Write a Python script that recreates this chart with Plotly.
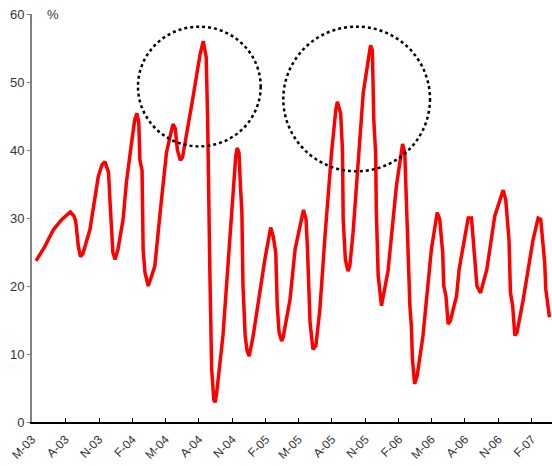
import plotly.graph_objects as go

dates = [
    "2003-05-12", "2003-06-05", "2003-06-29", "2003-07-22", "2003-08-14", "2003-08-24",
    "2003-08-29", "2003-09-02", "2003-09-05", "2003-09-11", "2003-09-18", "2003-10-07",
    "2003-10-30", "2003-11-09", "2003-11-17", "2003-11-24", "2003-11-27", "2003-12-02",
    "2003-12-05", "2003-12-09", "2003-12-15", "2003-12-23", "2004-01-06", "2004-01-15",
    "2004-01-29", "2004-02-07", "2004-02-13", "2004-02-18", "2004-02-21", "2004-02-27",
    "2004-03-01", "2004-03-06", "2004-03-15", "2004-04-02", "2004-04-17", "2004-05-04",
    "2004-05-14", "2004-05-22", "2004-05-28", "2004-06-03", "2004-06-11", "2004-06-17",
    "2004-07-15", "2004-08-04", "2004-08-13", "2004-08-21", "2004-08-25", "2004-08-27",
    "2004-08-31", "2004-09-05", "2004-09-11", "2004-09-15", "2004-09-19", "2004-10-06",
    "2004-10-29", "2004-11-10", "2004-11-14", "2004-11-19", "2004-11-23", "2004-11-27",
    "2004-11-30", "2004-12-06", "2004-12-11", "2004-12-17", "2004-12-28", "2005-01-29",
    "2005-02-14", "2005-02-21", "2005-02-28", "2005-03-04", "2005-03-09", "2005-03-16",
    "2005-03-20", "2005-04-08", "2005-04-22", "2005-05-15", "2005-05-22", "2005-05-26",
    "2005-06-02", "2005-06-10", "2005-06-18", "2005-06-29", "2005-07-13", "2005-07-31",
    "2005-08-12", "2005-08-16", "2005-08-25", "2005-08-30", "2005-09-01", "2005-09-07",
    "2005-09-14", "2005-09-19", "2005-09-28", "2005-10-26", "2005-11-15", "2005-11-20",
    "2005-11-24", "2005-11-29", "2005-12-01", "2005-12-06", "2005-12-15", "2006-01-02",
    "2006-01-25", "2006-02-11", "2006-02-17", "2006-02-22", "2006-02-26", "2006-03-03",
    "2006-03-07", "2006-03-10", "2006-03-16", "2006-03-23", "2006-04-08", "2006-05-01",
    "2006-05-17", "2006-05-24", "2006-06-01", "2006-06-04", "2006-06-10", "2006-06-16",
    "2006-06-22", "2006-07-09", "2006-07-16", "2006-08-10", "2006-08-19", "2006-08-28",
    "2006-09-03", "2006-09-13", "2006-09-30", "2006-10-22", "2006-11-14", "2006-11-21",
    "2006-11-26", "2006-11-30", "2006-12-04", "2006-12-10", "2006-12-16", "2006-12-22",
    "2007-01-08", "2007-02-04", "2007-02-18", "2007-02-25", "2007-03-08", "2007-03-11",
    "2007-03-21",
]

values = [
    23.7, 25.8, 28.3, 29.8, 30.9, 30.3,
    29.5, 27.3, 25.9, 24.3, 24.8, 28.3,
    36.1, 37.8, 38.3, 37.2, 36.7, 31.5,
    27.8, 24.9, 23.9, 25.4, 29.8, 35.2,
    41.0, 44.5, 45.4, 44.0, 38.6, 37.0,
    25.4, 22.0, 20.0, 22.9, 31.0, 39.6,
    42.0, 43.8, 43.2, 40.0, 38.5, 38.9,
    47.5, 54.0, 56.0, 53.7, 44.4, 32.2,
    22.4, 7.8, 3.2, 2.9, 4.4, 12.7,
    30.8, 39.0, 40.3, 39.6, 34.7, 30.8,
    20.0, 12.7, 10.5, 9.7, 12.7, 23.9,
    28.6, 27.3, 24.9, 17.1, 13.2, 11.9,
    12.4, 18.0, 25.4, 31.2, 29.8, 25.4,
    14.6, 10.7, 11.2, 16.6, 27.3, 39.6,
    46.0, 47.1, 45.4, 40.0, 29.8, 23.9,
    22.2, 22.9, 27.8, 48.4, 55.4, 54.7,
    44.4, 39.6, 30.8, 21.5, 17.1, 22.2,
    34.7, 40.9, 39.6, 32.2, 22.9, 17.1,
    14.1, 9.2, 5.6, 6.8, 12.7, 25.4,
    30.8, 29.8, 24.9, 20.0, 18.5, 14.4,
    14.9, 18.5, 22.4, 30.0, 30.0, 23.9,
    20.0, 19.0, 22.4, 30.3, 34.1, 32.7,
    28.3, 26.8, 19.0, 17.1, 12.7, 13.2,
    18.0, 26.8, 30.0, 29.8, 23.4, 19.5,
    15.4,
]

tick_dates = [
    "2003-05-01", "2003-08-01", "2003-11-01", "2004-02-01", "2004-05-01", "2004-08-01",
    "2004-11-01", "2005-02-01", "2005-05-01", "2005-08-01", "2005-11-01", "2006-02-01",
    "2006-05-01", "2006-08-01", "2006-11-01", "2007-02-01",
]
tick_labels = [
    "M-03", "A-03", "N-03", "F-04", "M-04", "A-04", "N-04", "F-05",
    "M-05", "A-05", "N-05", "F-06", "M-06", "A-06", "N-06", "F-07",
]

fig = go.Figure()
fig.add_trace(go.Scatter(
    x=dates, y=values, mode="lines",
    line=dict(color="#FF0000", width=3.5),
    hoverinfo="skip", showlegend=False,
))

# dotted ellipses highlighting the two peaks
fig.add_shape(type="circle", xref="paper", yref="paper",
              x0=0.2038, x1=0.4398, y0=0.6755, y1=0.969,
              line=dict(color="black", width=2.5, dash="dot"))
fig.add_shape(type="circle", xref="paper", yref="paper",
              x0=0.4833, x1=0.7654, y0=0.6144, y1=0.969,
              line=dict(color="black", width=2.5, dash="dot"))

fig.add_annotation(text="%", xref="paper", yref="paper", x=0.025, y=1.0,
                   xanchor="left", yanchor="middle", showarrow=False,
                   font=dict(family="Liberation Sans, Arial", size=13, color="#333333"))

fig.update_layout(
    width=552, height=466,
    margin=dict(l=32, r=0, t=14, b=44, autoexpand=False),
    paper_bgcolor="white", plot_bgcolor="white",
    font=dict(family="Liberation Sans, Arial", size=12, color="#333333"),
    xaxis=dict(
        type="date", range=["2003-05-01", "2007-03-28"],
        tickmode="array", tickvals=tick_dates, ticktext=tick_labels,
        tickangle=-45, ticks="inside", ticklen=4, tickcolor="black",
        ticklabelstandoff=4,
        showline=True, linecolor="black", linewidth=1.5,
        showgrid=False, zeroline=False, automargin=False,
        tickfont=dict(size=12, color="#333333"),
    ),
    yaxis=dict(
        range=[0, 60], tickmode="array", tickvals=[0, 10, 20, 30, 40, 50, 60],
        ticks="outside", ticklen=3, tickcolor="#808080",
        showline=True, linecolor="#808080", linewidth=2,
        showgrid=False, zeroline=False, automargin=False,
        tickfont=dict(size=13, color="#333333"),
    ),
)

fig.write_html(
    "out.html",
    config={"displayModeBar": False},
    post_script="document.body.style.margin='0px';document.body.style.overflow='hidden';",
)
